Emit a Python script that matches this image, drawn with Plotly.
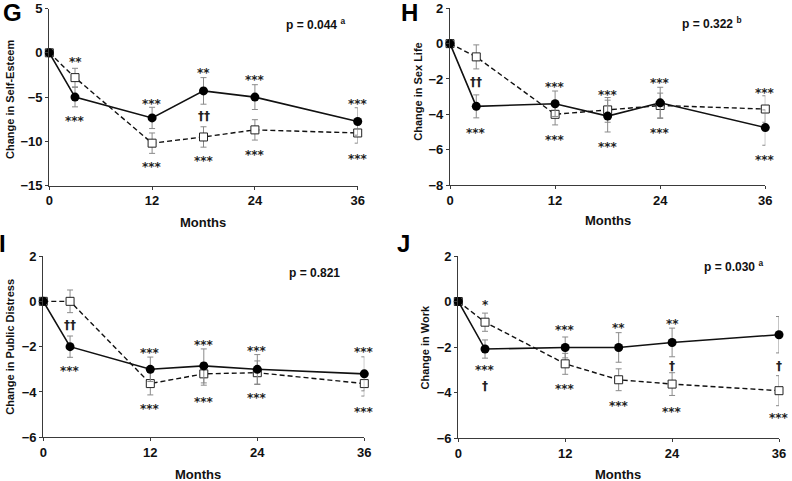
import plotly.graph_objects as go

W, H = 792, 481

months = [0, 3, 12, 18, 24, 36]
x_ticks = [0, 12, 24, 36]

# Panel G: Self-Esteem
G_solid = [0, -5.0, -7.35, -4.3, -5.0, -7.75]
G_solid_err = [0, 1.1, 1.2, 1.5, 1.4, 1.55]
G_dash = [0, -2.8, -10.2, -9.5, -8.7, -9.05]
G_dash_err = [0, 1.05, 1.15, 1.15, 1.15, 1.15]

# Panel H: Sex Life
H_solid = [0, -3.55, -3.4, -4.1, -3.35, -4.75]
H_solid_err = [0, 0.65, 0.72, 0.9, 0.88, 1.0]
H_dash = [0, -0.75, -4.0, -3.75, -3.5, -3.7]
H_dash_err = [0, 0.68, 0.6, 0.7, 0.7, 0.75]

# Panel I: Public Distress
I_solid = [0, -2.0, -3.0, -2.85, -3.0, -3.2]
I_solid_err = [0, 0.47, 0.54, 0.75, 0.65, 0.75]
I_dash = [0, 0.0, -3.63, -3.2, -3.15, -3.63]
I_dash_err = [0, 0.5, 0.5, 0.5, 0.52, 0.55]

# Panel J: Work
J_solid = [0, -2.09, -2.02, -2.02, -1.8, -1.46]
J_solid_err = [0, 0.4, 0.46, 0.65, 0.63, 0.8]
J_dash = [0, -0.91, -2.74, -3.44, -3.63, -3.92]
J_dash_err = [0, 0.4, 0.46, 0.48, 0.5, 0.66]

# significance marks: (month, value, text)
G_marks = [(3, -0.7, "**"), (3, -7.36, "***"), (12, -5.4, "***"), (12, -12.55, "***"),
           (18, -1.94, "**"), (18, -7.1, "††"), (18, -11.84, "***"),
           (24, -2.7, "***"), (24, -11.16, "***"), (36, -5.44, "***"), (36, -11.65, "***")]
H_marks = [(3, -2.19, "††"), (3, -4.87, "***"), (12, -2.28, "***"), (12, -5.3, "***"),
           (18, -2.74, "***"), (18, -5.68, "***"), (24, -2.08, "***"), (24, -4.87, "***"),
           (36, -2.6, "***"), (36, -6.42, "***")]
I_marks = [(3, -1.03, "††"), (3, -2.94, "***"), (12, -2.13, "***"), (12, -4.63, "***"),
           (18, -1.81, "***"), (18, -4.29, "***"), (24, -2.06, "***"), (24, -4.15, "***"),
           (36, -2.09, "***"), (36, -4.75, "***")]
J_marks = [(3, -0.04, "*"), (3, -2.9, "***"), (3, -3.7, "†"), (12, -1.14, "***"), (12, -3.7, "***"),
           (18, -1.05, "**"), (18, -4.47, "***"), (24, -0.85, "**"), (24, -2.85, "†"), (24, -4.73, "***"),
           (36, -2.83, "†"), (36, -4.98, "***")]

panels = [
    dict(letter="G", ytitle="Change in Self-Esteem", p="p = 0.044 <sup>a</sup>",
         solid=G_solid, solid_err=G_solid_err, dash=G_dash, dash_err=G_dash_err, marks=G_marks,
         yrange=[-15, 5], dtick=5,
         box=(49.3, 357.7, 8.5, 185.7), ytx=10, yty=100, mx=203, my=222, px=315, py=24, lx=12.5, ly=12),
    dict(letter="H", ytitle="Change in Sex Life", p="p = 0.322 <sup>b</sup>",
         solid=H_solid, solid_err=H_solid_err, dash=H_dash, dash_err=H_dash_err, marks=H_marks,
         yrange=[-8, 2], dtick=2,
         box=(450, 765.3, 8.3, 185), ytx=418, yty=91.7, mx=608, my=221, px=712, py=23, lx=410, ly=12),
    dict(letter="I", ytitle="Change in Public Distress", p="p = 0.821",
         solid=I_solid, solid_err=I_solid_err, dash=I_dash, dash_err=I_dash_err, marks=I_marks,
         yrange=[-6, 2], dtick=2,
         box=(43.3, 364.3, 256, 437.3), ytx=10, yty=346.7, mx=198, my=474, px=314, py=273, lx=2, ly=243),
    dict(letter="J", ytitle="Change in Work", p="p = 0.030 <sup>a</sup>",
         solid=J_solid, solid_err=J_solid_err, dash=J_dash, dash_err=J_dash_err, marks=J_marks,
         yrange=[-6, 2], dtick=2,
         box=(458.3, 779, 256, 438), ytx=424, yty=347.5, mx=617.7, my=474, px=733, py=266, lx=404, ly=243),
]

FONT = "Liberation Sans"
MARKFONT = "DejaVu Sans"
AXC = "#3a3a3a"
fig = go.Figure()
annotations = []
layout = {}

for i, pnl in enumerate(panels):
    k = "" if i == 0 else str(i + 1)
    xa, ya = "x" + k, "y" + k
    x0, x1, y0, y1 = pnl["box"]
    layout["xaxis" + k] = dict(
        domain=[x0 / W, x1 / W], range=[0, 36], anchor=ya, automargin=False,
        tickvals=x_ticks, ticks="outside", ticklen=3, tickcolor=AXC,
        showline=True, linecolor=AXC, linewidth=1.2, showgrid=False, zeroline=False,
        tickfont=dict(family=FONT, size=13, color="#111", weight="bold"))
    layout["yaxis" + k] = dict(
        domain=[1 - y1 / H, 1 - y0 / H], range=pnl["yrange"], dtick=pnl["dtick"], anchor=xa,
        automargin=False, ticks="outside", ticklen=3, tickcolor=AXC,
        showline=True, linecolor=AXC, linewidth=1.2, showgrid=False, zeroline=False,
        tickfont=dict(family=FONT, size=13, color="#111", weight="bold"))
    # dashed series (open squares)
    fig.add_trace(go.Scatter(
        x=months, y=pnl["dash"], xaxis=xa, yaxis=ya, mode="lines+markers",
        line=dict(color="#111", width=1.4, dash="5px,3px"),
        marker=dict(symbol="square", size=8, color="white", line=dict(color="#222", width=1)),
        error_y=dict(type="data", array=pnl["dash_err"], color="#8a8a8a", thickness=1, width=3),
        cliponaxis=False, showlegend=False))
    # solid series (filled circles)
    fig.add_trace(go.Scatter(
        x=months, y=pnl["solid"], xaxis=xa, yaxis=ya, mode="lines+markers",
        line=dict(color="#111", width=1.6),
        marker=dict(symbol="circle", size=9, color="#000"),
        error_y=dict(type="data", array=pnl["solid_err"], color="#8a8a8a", thickness=1, width=3),
        cliponaxis=False, showlegend=False))
    for (m, v, t) in pnl["marks"]:
        annotations.append(dict(
            x=m, y=v, xref=xa, yref=ya, text="<b>%s</b>" % t, showarrow=False,
            xanchor="center", yanchor="middle",
            yshift=-3 if "*" in t else 0,
            font=dict(family=MARKFONT, size=12, color="#222")))
    annotations.append(dict(
        x=pnl["ytx"] / W, y=1 - pnl["yty"] / H, xref="paper", yref="paper",
        xanchor="center", yanchor="middle",
        text="<b>%s</b>" % pnl["ytitle"], textangle=-90, showarrow=False,
        font=dict(family=FONT, size=11, color="#111")))
    annotations.append(dict(
        x=pnl["mx"] / W, y=1 - pnl["my"] / H, xref="paper", yref="paper",
        xanchor="center", yanchor="middle",
        text="<b>Months</b>", showarrow=False, font=dict(family=FONT, size=13, color="#111")))
    annotations.append(dict(
        x=pnl["px"] / W, y=1 - pnl["py"] / H, xref="paper", yref="paper",
        xanchor="center", yanchor="middle",
        text="<b>%s</b>" % pnl["p"], showarrow=False, font=dict(family=FONT, size=12, color="#111")))
    annotations.append(dict(
        x=pnl["lx"] / W, y=1 - pnl["ly"] / H, xref="paper", yref="paper",
        xanchor="center", yanchor="middle",
        text="<b>%s</b>" % pnl["letter"], showarrow=False, font=dict(family=FONT, size=24, color="#000")))

fig.update_layout(
    width=W, height=H, margin=dict(l=0, r=0, t=0, b=0, autoexpand=False),
    paper_bgcolor="white", plot_bgcolor="white",
    annotations=annotations, **layout)

fig.write_html("out.html", config={"displayModeBar": False},
               post_script="document.body.style.margin='0';document.body.style.overflow='hidden';")
